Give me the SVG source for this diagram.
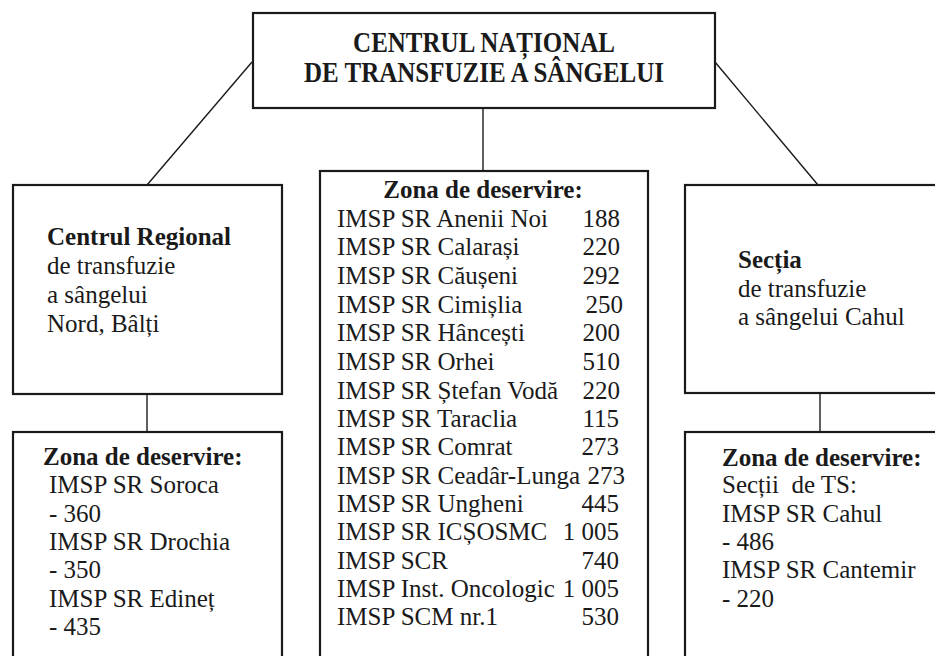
<svg xmlns="http://www.w3.org/2000/svg" width="935" height="656" viewBox="0 0 935 656">
<style>
.box{fill:none;stroke:#1a1a1a;stroke-width:2.2}
.ln{stroke:#1a1a1a;stroke-width:1.4;fill:none}
text{font-family:"Liberation Serif","Times New Roman",serif;font-size:25px;fill:#1a1a1a}
.b{font-weight:bold}
.r{text-anchor:end}
.c{text-anchor:middle}
</style>
<rect width="935" height="656" fill="#ffffff"/>
<g id="connectors">
<line class="ln" x1="252" y1="62" x2="147" y2="185"/>
<line class="ln" x1="715" y1="62" x2="818" y2="185"/>
<line class="ln" x1="483" y1="108" x2="483" y2="171"/>
<line class="ln" x1="147" y1="394" x2="147" y2="432"/>
<line class="ln" x1="820" y1="393" x2="820" y2="432"/>
</g>
<g id="national">
<rect class="box" x="253" y="13" width="462" height="95"/>
<text class="b c" transform="translate(484,52) scale(1,1.15)">CENTRUL NAȚIONAL</text>
<text class="b c" transform="translate(484,82) scale(1,1.15)">DE TRANSFUZIE A SÂNGELUI</text>
</g>
<g id="nord">
<rect class="box" x="13" y="185" width="269" height="209"/>
<text class="b" x="47" y="245">Centrul Regional</text>
<text x="47" y="274">de transfuzie</text>
<text x="47" y="303">a sângelui</text>
<text x="47" y="332">Nord, Bâlți</text>
</g>
<g id="nord-zona">
<rect class="box" x="13" y="432" width="269" height="240"/>
<text class="b" x="43" y="465">Zona de deservire:</text>
<text x="49" y="493">IMSP SR Soroca</text>
<text x="49" y="522">- 360</text>
<text x="49" y="550">IMSP SR Drochia</text>
<text x="49" y="578">- 350</text>
<text x="49" y="607">IMSP SR Edineț</text>
<text x="49" y="635">- 435</text>
</g>
<g id="centru-zona">
<rect class="box" x="320" y="171" width="328" height="500"/>
<text class="b c" x="483" y="198">Zona de deservire:</text>
<text x="337" y="227">IMSP SR Anenii Noi</text><text class="r" x="620" y="227">188</text>
<text x="337" y="255">IMSP SR Calarași</text><text class="r" x="620" y="255">220</text>
<text x="337" y="284">IMSP SR Căușeni</text><text class="r" x="620" y="284">292</text>
<text x="337" y="313">IMSP SR Cimișlia</text><text class="r" x="623" y="313">250</text>
<text x="337" y="341">IMSP SR Hâncești</text><text class="r" x="620" y="341">200</text>
<text x="337" y="370">IMSP SR Orhei</text><text class="r" x="620" y="370">510</text>
<text x="337" y="399">IMSP SR Ștefan Vodă</text><text class="r" x="620" y="399">220</text>
<text x="337" y="427">IMSP SR Taraclia</text><text class="r" x="619" y="427">115</text>
<text x="337" y="455">IMSP SR Comrat</text><text class="r" x="619" y="455">273</text>
<text x="337" y="484">IMSP SR Ceadâr-Lunga</text><text class="r" x="625" y="484">273</text>
<text x="337" y="512">IMSP SR Ungheni</text><text class="r" x="619" y="512">445</text>
<text x="337" y="540">IMSP SR ICȘOSMC</text><text class="r" x="619" y="540">1 005</text>
<text x="337" y="569">IMSP SCR</text><text class="r" x="619" y="569">740</text>
<text x="337" y="597">IMSP Inst. Oncologic</text><text class="r" x="619" y="597">1 005</text>
<text x="337" y="625">IMSP SCM nr.1</text><text class="r" x="619" y="625">530</text>
</g>
<g id="cahul">
<rect class="box" x="685" y="185" width="270" height="208"/>
<text class="b" x="738" y="268">Secția</text>
<text x="738" y="297">de transfuzie</text>
<text x="738" y="325">a sângelui Cahul</text>
</g>
<g id="cahul-zona">
<rect class="box" x="685" y="432" width="270" height="240"/>
<text class="b" x="722" y="466">Zona de deservire:</text>
<text x="722" y="493" xml:space="preserve">Secții  de TS:</text>
<text x="722" y="522">IMSP SR Cahul</text>
<text x="722" y="550">- 486</text>
<text x="722" y="578">IMSP SR Cantemir</text>
<text x="722" y="607">- 220</text>
</g>
</svg>
